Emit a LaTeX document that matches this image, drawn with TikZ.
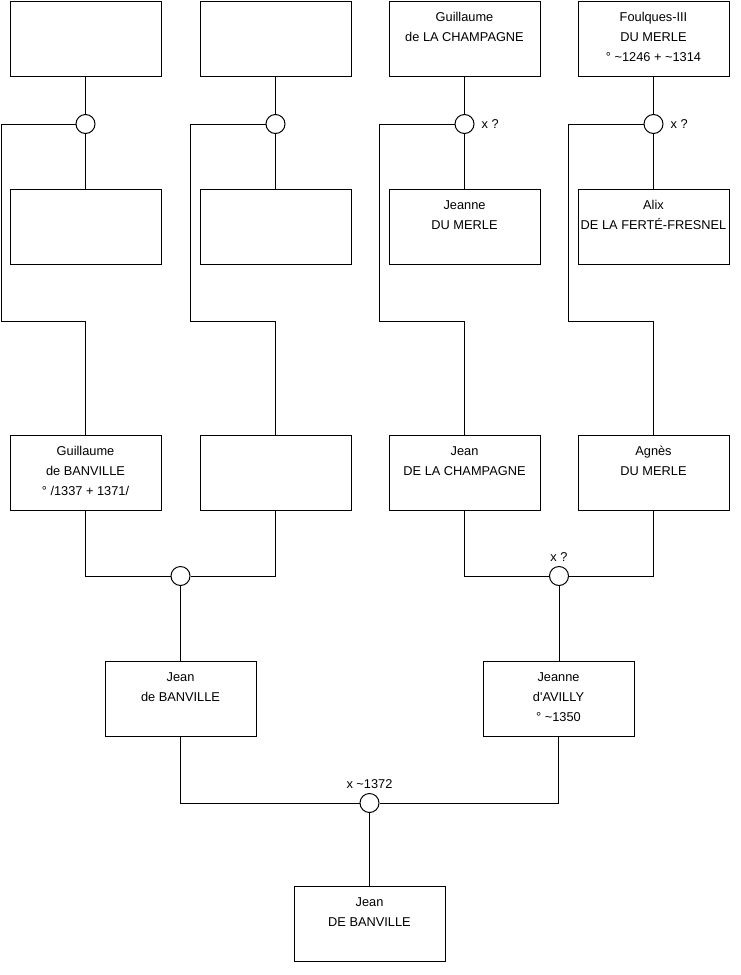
\documentclass[tikz,border=0pt]{standalone}
\usepackage{fontspec}
\setmainfont{Liberation Sans}
\usetikzlibrary{positioning}

% text of a box, set from its top edge
\newcommand{\who}[1]{\parbox[c][56.25pt][t]{113.25pt}{\centering\rule{0pt}{15pt}#1}}

\begin{document}
\begin{tikzpicture}[x=0.75pt,y=-0.75pt,line width=0.75pt,
  person/.style={draw,inner sep=0pt,minimum width=113.25pt,minimum height=56.25pt,
    font=\fontsize{9.6}{15}\selectfont},
  union/.style={draw,circle,fill=white,inner sep=0pt,minimum size=14.25pt},
  note/.style={font=\fontsize{9.6}{11}\selectfont,inner sep=1pt}]
  \useasboundingbox (0,0) rectangle (740,975);

  % fathers of the grandparents' generation
  \node[person] (f1) at (85.5,38.5) {\who{}};
  \node[person] (f2) at (275.5,38.5) {\who{}};
  \node[person] (f3) at (464.5,38.5) {\who{Guillaume\\de LA CHAMPAGNE}};
  \node[person] (f4) at (653.5,38.5) {\who{Foulques-III\\DU MERLE\\° \textasciitilde1246 + \textasciitilde1314}};

  % mothers
  \node[person] (m1) at (85.5,226.5) {\who{}};
  \node[person] (m2) at (275.5,226.5) {\who{}};
  \node[person] (m3) at (464.5,226.5) {\who{Jeanne\\DU MERLE}};
  \node[person] (m4) at (653.5,226.5) {\who{Alix\\DE LA FERTÉ-FRESNEL}};

  % grandparents
  \node[person] (g1) at (85.5,472.5) {\who{Guillaume\\de BANVILLE\\° /1337 + 1371/}};
  \node[person] (g2) at (275.5,472.5) {\who{}};
  \node[person] (g3) at (464.5,472.5) {\who{Jean\\DE LA CHAMPAGNE}};
  \node[person] (g4) at (653.5,472.5) {\who{Agnès\\DU MERLE}};

  % parents
  \node[person] (dad) at (180.5,699) {\who{Jean\\de BANVILLE}};
  \node[person] (mum) at (558.5,699) {\who{Jeanne\\d\textquotesingle AVILLY\\° \textasciitilde1350}};

  \node[person] (jean) at (369.5,924) {\who{Jean\\DE BANVILLE}};

  % unions
  \node[union] (u1) at (85.5,124) {};
  \node[union] (u2) at (275.5,124) {};
  \node[union] (u3) at (464.5,124) {};
  \node[union] (u4) at (653.5,124) {};
  \node[union] (u5) at (180.5,576) {};
  \node[union] (u6) at (559,576) {};
  \node[union] (u7) at (369.5,803) {};

  \node[note,right=4pt of u3] (d3) {x ?};
  \node[note,right=4pt of u4] (d4) {x ?};
  \node[note,above=2pt of u6] (d6) {x ?};
  \node[note,above=2pt of u7] (d7) {x \textasciitilde1372};

  \coordinate (b1) at (1,321);
  \coordinate (b2) at (190,321);
  \coordinate (b3) at (379,321);
  \coordinate (b4) at (568,321);

  \foreach \i in {1,...,4}{
    \draw (f\i) -- (u\i) -- (m\i);
    \draw (u\i.west) -| (b\i) -| (g\i.north);
  }

  \draw (g1.south) |- (u5.west);
  \draw (g2.south) |- (u5.east);
  \draw (u5) -- (dad);
  \draw (g3.south) |- (u6.west);
  \draw (g4.south) |- (u6.east);
  \draw (u6.south) -- (u6.south |- mum.north);

  \draw (dad.south) |- (u7.west);
  \draw (mum.south) |- (u7.east);
  \draw (u7) -- (jean);
\end{tikzpicture}
\end{document}
